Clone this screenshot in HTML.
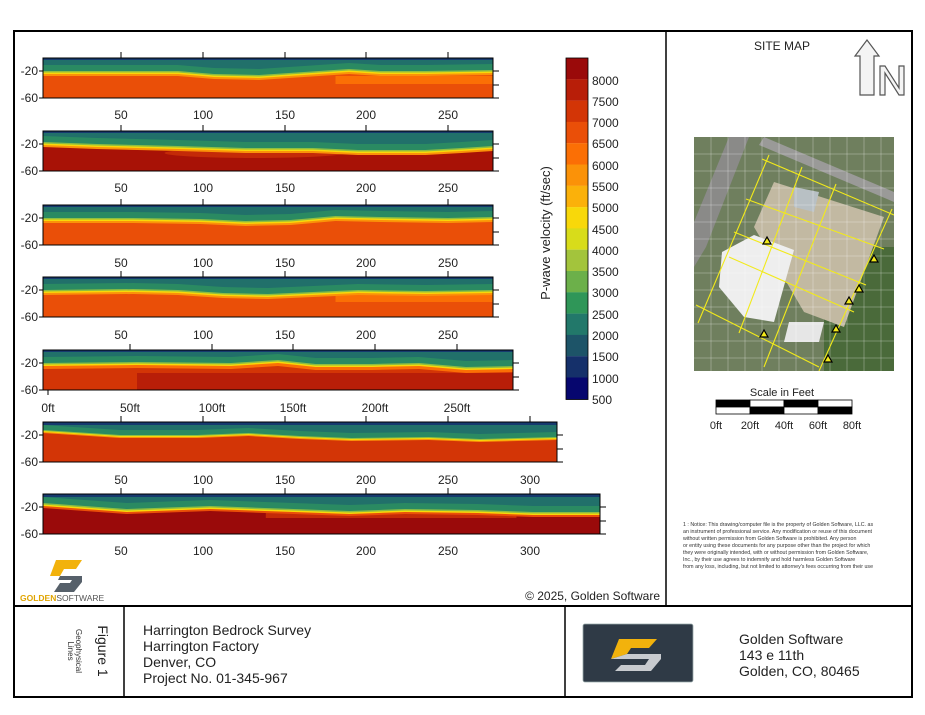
<!DOCTYPE html>
<html><head><meta charset="utf-8"><style>
body{margin:0;background:#fff;}
svg text{font-family:"Liberation Sans",sans-serif;}
</style></head><body>
<svg width="925" height="710" viewBox="0 0 925 710" xmlns="http://www.w3.org/2000/svg" xmlns:xlink="http://www.w3.org/1999/xlink">
<defs>
<path id="i1" d="M0,0 L0,13 L15,13 L30,13 L38,16 L48,17 L58,14 L68,11 L75,13 L85,13 L100,12 L100,0 Z"/>
<path id="i2" d="M0,0 L0,11 L12,13 L30,15 L45,17 L60,17 L70,19 L85,19 L93,17 L100,15 L100,0 Z"/>
<path id="i3" d="M0,0 L0,13 L20,13 L35,14 L45,16 L55,15 L65,11 L75,12 L90,13 L100,12 L100,0 Z"/>
<path id="i4" d="M0,0 L0,13 L20,12 L30,13 L40,16 L50,17 L60,15 L70,13 L85,14 L100,13 L100,0 Z"/>
<path id="i5" d="M0,0 L0,13 L20,12 L40,13 L50,10 L58,14 L70,14 L80,13 L90,17 L100,16 L100,0 Z"/>
<path id="i6" d="M0,0 L0,8 L15,13 L30,13 L40,11 L50,14 L60,16 L75,15 L85,17 L100,15 L100,0 Z"/>
<path id="i7" d="M0,0 L0,9 L15,15 L30,12 L45,15 L55,17 L65,15 L78,16 L88,18 L100,18 L100,0 Z"/>
</defs>
<rect x="14" y="31" width="898" height="666" fill="none" stroke="#000" stroke-width="2"/>
<line x1="666" y1="31" x2="666" y2="606" stroke="#000" stroke-width="1.5"/>
<line x1="14" y1="606" x2="912" y2="606" stroke="#000" stroke-width="2"/>
<line x1="124" y1="606" x2="124" y2="697" stroke="#000" stroke-width="1.5"/>
<line x1="565" y1="606" x2="565" y2="697" stroke="#000" stroke-width="1.5"/>

<g id="profiles">
<svg x="43" y="58" width="450" height="40" viewBox="0 0 100 40" preserveAspectRatio="none">
<rect width="100" height="40" fill="#ea4f08"/><rect x="65" y="18" width="35" height="8" fill="#fb6f05"/>
<use href="#i1" transform="translate(0,5)" fill="#fb9208"/><use href="#i1" transform="translate(0,3)" fill="#f8d80a"/><use href="#i1" transform="translate(0,1.5)" fill="#8dbe42"/><use href="#i1" fill="#2a8a62"/><use href="#i1" transform="translate(0,-6)" fill="#21706a"/><rect width="100" height="2" fill="#163a6e"/></svg>
<svg x="43" y="131" width="450" height="40" viewBox="0 0 100 40" preserveAspectRatio="none">
<rect width="100" height="40" fill="#a81206"/><ellipse cx="47" cy="22" rx="20" ry="5" fill="#c42a08"/>
<use href="#i2" transform="translate(0,5)" fill="#fb9208"/><use href="#i2" transform="translate(0,3)" fill="#f8d80a"/><use href="#i2" transform="translate(0,1.5)" fill="#8dbe42"/><use href="#i2" fill="#2a8a62"/><use href="#i2" transform="translate(0,-6)" fill="#21706a"/><rect width="100" height="2" fill="#163a6e"/></svg>
<svg x="43" y="205" width="450" height="40" viewBox="0 0 100 40" preserveAspectRatio="none">
<rect width="100" height="40" fill="#ea4f08"/>
<use href="#i3" transform="translate(0,5)" fill="#fb9208"/><use href="#i3" transform="translate(0,3)" fill="#f8d80a"/><use href="#i3" transform="translate(0,1.5)" fill="#8dbe42"/><use href="#i3" fill="#2a8a62"/><use href="#i3" transform="translate(0,-6)" fill="#21706a"/><rect width="100" height="2" fill="#163a6e"/></svg>
<svg x="43" y="277" width="450" height="40" viewBox="0 0 100 40" preserveAspectRatio="none">
<rect width="100" height="40" fill="#ea4f08"/><rect x="65" y="17" width="35" height="8" fill="#fb6f05"/>
<use href="#i4" transform="translate(0,5)" fill="#fb9208"/><use href="#i4" transform="translate(0,3)" fill="#f8d80a"/><use href="#i4" transform="translate(0,1.5)" fill="#8dbe42"/><use href="#i4" fill="#2a8a62"/><use href="#i4" transform="translate(0,-6)" fill="#21706a"/><rect width="100" height="2" fill="#163a6e"/></svg>
<svg x="43" y="350" width="470" height="40" viewBox="0 0 100 40" preserveAspectRatio="none">
<rect width="100" height="40" fill="#b81e08"/><rect width="20" height="40" fill="#d33506"/><rect y="16" width="100" height="7" fill="#d33506"/>
<use href="#i5" transform="translate(0,6)" fill="#fb6f05"/><use href="#i5" transform="translate(0,3)" fill="#f8d80a"/><use href="#i5" transform="translate(0,1.5)" fill="#8dbe42"/><use href="#i5" fill="#2a8a62"/><use href="#i5" transform="translate(0,-6)" fill="#21706a"/><rect width="100" height="2" fill="#163a6e"/></svg>
<svg x="43" y="422" width="514" height="40" viewBox="0 0 100 40" preserveAspectRatio="none">
<rect width="100" height="40" fill="#d33506"/>
<use href="#i6" transform="translate(0,3)" fill="#fb9208"/><use href="#i6" transform="translate(0,2)" fill="#f8d80a"/><use href="#i6" transform="translate(0,1)" fill="#8dbe42"/><use href="#i6" fill="#2a8a62"/><use href="#i6" transform="translate(0,-5)" fill="#21706a"/><rect width="100" height="3" fill="#163a6e"/></svg>
<svg x="43" y="494" width="557" height="40" viewBox="0 0 100 40" preserveAspectRatio="none">
<rect width="100" height="40" fill="#9a0a0a"/><rect x="40" y="18" width="45" height="6" fill="#c42a08"/>
<use href="#i7" transform="translate(0,5)" fill="#ea4f08"/><use href="#i7" transform="translate(0,3)" fill="#f8d80a"/><use href="#i7" transform="translate(0,1.5)" fill="#8dbe42"/><use href="#i7" fill="#2a8a62"/><use href="#i7" transform="translate(0,-6)" fill="#21706a"/><rect width="100" height="3" fill="#163a6e"/></svg>
</g>
<g fill="none" stroke="#000" stroke-width="1">
<rect x="43" y="58" width="450" height="40"/><rect x="43" y="131" width="450" height="40"/><rect x="43" y="205" width="450" height="40"/><rect x="43" y="277" width="450" height="40"/><rect x="43" y="350" width="470" height="40"/><rect x="43" y="422" width="514" height="40"/><rect x="43" y="494" width="557" height="40"/>
</g>
<g stroke="#000" stroke-width="1">
<path d="M39,71h4M39,98h4M493,71h6M493,85h6M493,98h6M121,52v6M203,52v6M285,52v6M366,52v6M448,52v6"/>
<path d="M39,144h4M39,171h4M493,144h6M493,158h6M493,171h6M121,125v6M203,125v6M285,125v6M366,125v6M448,125v6"/>
<path d="M39,218h4M39,245h4M493,218h6M493,232h6M493,245h6M121,199v6M203,199v6M285,199v6M366,199v6M448,199v6"/>
<path d="M39,290h4M39,317h4M493,290h6M493,304h6M493,317h6M121,271v6M203,271v6M285,271v6M366,271v6M448,271v6"/>
<path d="M39,363h4M39,390h4M513,363h6M513,377h6M513,390h6M48,390v5M130,344v6M212,344v6M293,344v6M375,344v6M457,344v6"/>
<path d="M39,435h4M39,462h4M557,435h6M557,449h6M557,462h6M121,416v6M203,416v6M285,416v6M366,416v6M448,416v6M530,416v6"/>
<path d="M39,507h4M39,534h4M600,507h6M600,521h6M600,534h6M121,488v6M203,488v6M285,488v6M366,488v6M448,488v6M530,488v6"/>
</g>
<g font-size="12" fill="#222" text-anchor="end">
<text x="38" y="75">-20</text><text x="38" y="102">-60</text>
<text x="38" y="148">-20</text><text x="38" y="175">-60</text>
<text x="38" y="222">-20</text><text x="38" y="249">-60</text>
<text x="38" y="294">-20</text><text x="38" y="321">-60</text>
<text x="38" y="367">-20</text><text x="38" y="394">-60</text>
<text x="38" y="439">-20</text><text x="38" y="466">-60</text>
<text x="38" y="511">-20</text><text x="38" y="538">-60</text>
</g>
<g font-size="12" fill="#222" text-anchor="middle">
<text x="121" y="119">50</text><text x="203" y="119">100</text><text x="285" y="119">150</text><text x="366" y="119">200</text><text x="448" y="119">250</text>
<text x="121" y="192">50</text><text x="203" y="192">100</text><text x="285" y="192">150</text><text x="366" y="192">200</text><text x="448" y="192">250</text>
<text x="121" y="267">50</text><text x="203" y="267">100</text><text x="285" y="267">150</text><text x="366" y="267">200</text><text x="448" y="267">250</text>
<text x="121" y="339">50</text><text x="203" y="339">100</text><text x="285" y="339">150</text><text x="366" y="339">200</text><text x="448" y="339">250</text>
<text x="48" y="412">0ft</text><text x="130" y="412">50ft</text><text x="212" y="412">100ft</text><text x="293" y="412">150ft</text><text x="375" y="412">200ft</text><text x="457" y="412">250ft</text>
<text x="121" y="484">50</text><text x="203" y="484">100</text><text x="285" y="484">150</text><text x="366" y="484">200</text><text x="448" y="484">250</text><text x="530" y="484">300</text>
<text x="121" y="555">50</text><text x="203" y="555">100</text><text x="285" y="555">150</text><text x="366" y="555">200</text><text x="448" y="555">250</text><text x="530" y="555">300</text>
</g>
<g>
<rect x="566" y="58" width="22" height="21.4" fill="#9a0a0a"/>
<rect x="566" y="79.3" width="22" height="21.4" fill="#b81e08"/>
<rect x="566" y="100.6" width="22" height="21.4" fill="#d33506"/>
<rect x="566" y="121.9" width="22" height="21.4" fill="#ea4f08"/>
<rect x="566" y="143.2" width="22" height="21.4" fill="#fb6f05"/>
<rect x="566" y="164.5" width="22" height="21.4" fill="#fb9208"/>
<rect x="566" y="185.8" width="22" height="21.4" fill="#fbb10a"/>
<rect x="566" y="207.1" width="22" height="21.4" fill="#f8d80a"/>
<rect x="566" y="228.4" width="22" height="21.4" fill="#d8dc1a"/>
<rect x="566" y="249.7" width="22" height="21.4" fill="#a3c43c"/>
<rect x="566" y="271" width="22" height="21.4" fill="#6cb04a"/>
<rect x="566" y="292.3" width="22" height="21.4" fill="#2f9658"/>
<rect x="566" y="313.6" width="22" height="21.4" fill="#22786a"/>
<rect x="566" y="334.9" width="22" height="21.4" fill="#1d5468"/>
<rect x="566" y="356.2" width="22" height="21.4" fill="#15306a"/>
<rect x="566" y="377.5" width="22" height="22" fill="#06066e"/>
<rect x="566" y="58" width="22" height="341.5" fill="none" stroke="#000" stroke-width="0.8"/>
</g>
<g font-size="12" fill="#222">
<text x="592" y="85">8000</text><text x="592" y="106">7500</text><text x="592" y="127">7000</text><text x="592" y="148">6500</text><text x="592" y="170">6000</text><text x="592" y="191">5500</text><text x="592" y="212">5000</text><text x="592" y="234">4500</text><text x="592" y="255">4000</text><text x="592" y="276">3500</text><text x="592" y="297">3000</text><text x="592" y="319">2500</text><text x="592" y="340">2000</text><text x="592" y="361">1500</text><text x="592" y="383">1000</text><text x="592" y="404">500</text>
</g>
<text x="550" y="233" font-size="13" fill="#222" text-anchor="middle" transform="rotate(-90 550 233)">P-wave velocity (ft/sec)</text>

<text x="782" y="50" font-size="12" fill="#222" text-anchor="middle">SITE MAP</text>
<path d="M860,95 V56 H855 L867,40 L879,56 H874 V95 Z" fill="#f4f4f4" stroke="#555" stroke-width="1.2"/>
<path d="M880,95 V66 H885 L899,88 V66 H904 V95 H899 L885,73 V95 Z" fill="#f4f4f4" stroke="#555" stroke-width="1.2"/>
<svg x="694" y="137" width="200" height="234" viewBox="0 0 200 234">
<rect width="200" height="234" fill="#6f7f5e"/>
<rect x="130" y="110" width="70" height="124" fill="#4a6a3a"/>
<polygon points="0,85 35,0 55,0 12,110 0,130" fill="#8a8a88"/>
<polygon points="70,0 200,55 200,65 65,8" fill="#9a9a98"/>
<polygon points="80,45 190,80 150,190 110,175 60,90" fill="#c2b9a2"/>
<polygon points="28,115 60,98 100,113 80,185 50,180 25,150" fill="#eeeeee"/>
<polygon points="95,185 130,185 125,205 90,205" fill="#e6e6e6"/>
<polygon points="100,50 125,55 120,75 100,70" fill="#b8c0c4"/>
<g stroke="#fff" stroke-opacity="0.35" stroke-width="0.8">
<path d="M0,17h200M0,34h200M0,51h200M0,68h200M0,85h200M0,102h200M0,119h200M0,136h200M0,153h200M0,170h200M0,187h200M0,204h200M0,221h200"/>
<path d="M17,0v234M34,0v234M51,0v234M68,0v234M85,0v234M102,0v234M119,0v234M136,0v234M153,0v234M170,0v234M187,0v234"/>
</g>
<g stroke="#f2ea1a" stroke-width="1.1" fill="none">
<path d="M75,18 L4,186 M108,30 L45,196 M142,47 L70,230 M198,72 L125,234"/>
<path d="M68,22 L200,78 M52,62 L190,112 M40,95 L172,148 M35,120 L160,175 M2,168 L125,230"/>
</g>
<g fill="#f2ea1a" stroke="#000" stroke-width="1.2">
<path d="M73,100 l-4,7 h8 z M180,118 l-4,7 h8 z M165,148 l-4,7 h8 z M155,160 l-4,7 h8 z M142,188 l-4,7 h8 z M70,193 l-4,7 h8 z M134,218 l-4,7 h8 z"/>
</g>
</svg>
<text x="782" y="396" font-size="11" fill="#222" text-anchor="middle">Scale in Feet</text>
<g stroke="#000" stroke-width="0.8">
<rect x="716" y="400" width="34" height="7" fill="#000"/><rect x="750" y="400" width="34" height="7" fill="#fff"/><rect x="784" y="400" width="34" height="7" fill="#000"/><rect x="818" y="400" width="34" height="7" fill="#fff"/>
<rect x="716" y="407" width="34" height="7" fill="#fff"/><rect x="750" y="407" width="34" height="7" fill="#000"/><rect x="784" y="407" width="34" height="7" fill="#fff"/><rect x="818" y="407" width="34" height="7" fill="#000"/>
</g>
<g font-size="11" fill="#222" text-anchor="middle">
<text x="716" y="429">0ft</text><text x="750" y="429">20ft</text><text x="784" y="429">40ft</text><text x="818" y="429">60ft</text><text x="852" y="429">80ft</text>
</g>
<g font-size="5.3" fill="#333">
<text x="683" y="526">1 : Notice: This drawing/computer file is the property of Golden Software, LLC. as</text>
<text x="683" y="533">an instrument of professional service. Any modification or reuse of this document</text>
<text x="683" y="540">without written permission from Golden Software is prohibited. Any person</text>
<text x="683" y="547">or entity using these documents for any purpose other than the project for which</text>
<text x="683" y="554">they were originally intended, with or without permission from Golden Software,</text>
<text x="683" y="561">Inc., by their use agrees to indemnify and hold harmless Golden Software</text>
<text x="683" y="568">from any loss, including, but not limited to attorney's fees occurring from their use</text>
</g>
<g transform="translate(50,560)">
<polygon points="6,0 32,0 26,9 14,9 10,16 0,16" fill="#f2b20c"/>
<polygon points="10,16 32,16 32,22 24,32 4,32 10,23 20,23 22,20 8,20" fill="#56606a"/>
</g>
<text x="20" y="601" font-size="8.5" fill="#e0a400" font-weight="bold">GOLDEN<tspan fill="#555" font-weight="normal">SOFTWARE</tspan></text>
<text x="660" y="600" font-size="12" fill="#222" text-anchor="end">© 2025, Golden Software</text>
<text x="98" y="651" font-size="14" fill="#222" transform="rotate(90 98 651)" text-anchor="middle">Figure 1</text>
<text x="76" y="651" font-size="8" fill="#333" transform="rotate(90 76 651)" text-anchor="middle">Geophysical</text>
<text x="68" y="651" font-size="8" fill="#333" transform="rotate(90 68 651)" text-anchor="middle">Lines</text>
<g font-size="14" fill="#222">
<text x="143" y="635">Harrington Bedrock Survey</text>
<text x="143" y="651">Harrington Factory</text>
<text x="143" y="667">Denver, CO</text>
<text x="143" y="683">Project No. 01-345-967</text>
<text x="739" y="644">Golden Software</text>
<text x="739" y="660">143 e 11th</text>
<text x="739" y="676">Golden, CO, 80465</text>
</g>
<rect x="583" y="624" width="110" height="58" rx="2" fill="#2f3a46" stroke="#9aa" stroke-width="0.8"/>
<g transform="translate(611,639)">
<polygon points="8,0 46,0 38,9 20,9 16,15 0,20" fill="#f2b20c"/>
<polygon points="0,20 16,15 50,15 50,20 40,32 4,32 10,26 34,26 38,20" fill="#c8cbcf"/>
</g>
</svg>
</body></html>
